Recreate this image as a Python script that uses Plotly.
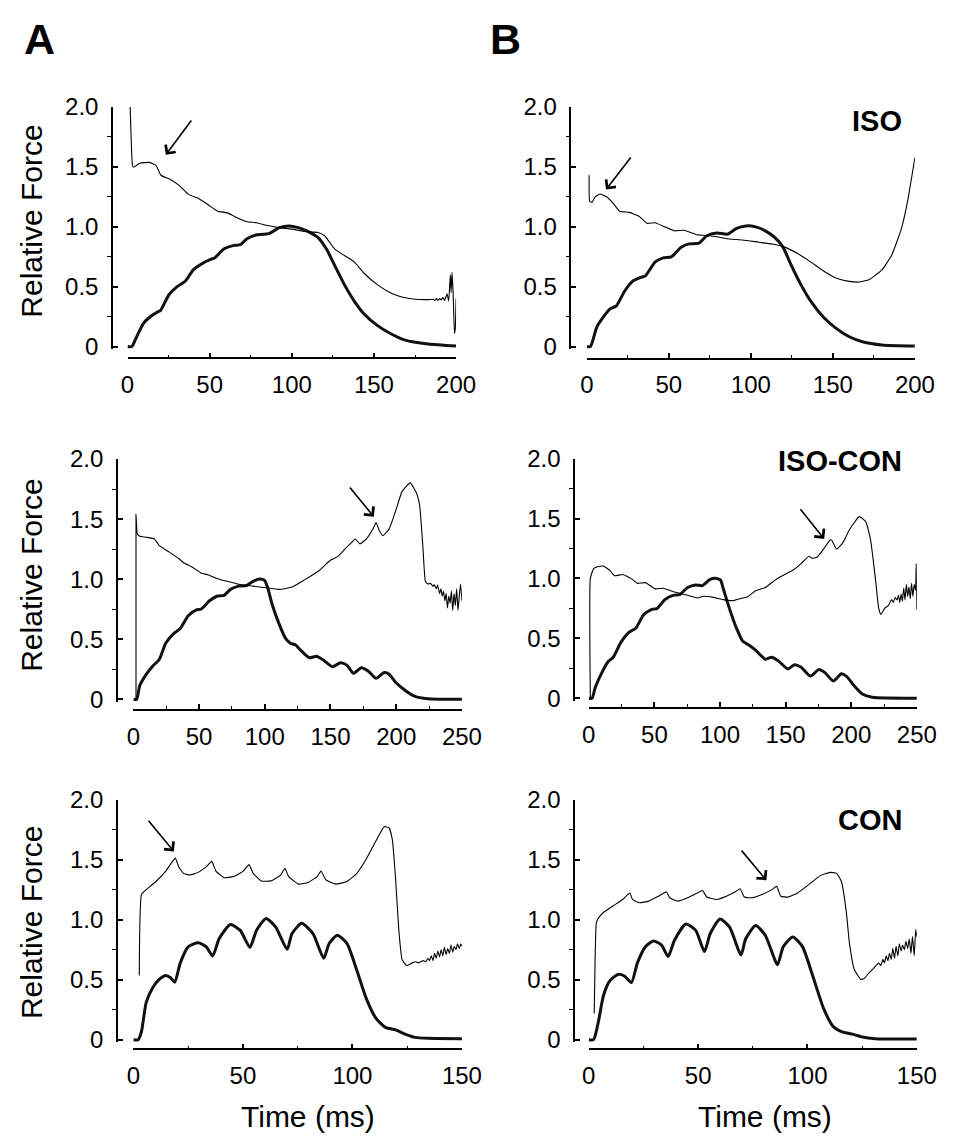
import plotly.graph_objects as go

W, H = 966, 1148

# ---------------- data ----------------
# Panel A, ISO
A1_thick_t = [0, 2.6, 5.5, 9.5, 13.4, 18.4, 20, 25.3, 30.2, 35.1, 40, 45, 50.9, 53, 58.8, 64.8, 68.7, 72.7, 78.6, 84.5, 86.5,
              92.4, 98.3, 104, 110, 116, 121, 126, 132, 138, 144, 152, 160, 169, 183, 200]
A1_thick_f = [0, 0, 0.08, 0.19, 0.245, 0.29, 0.30, 0.435, 0.50, 0.545, 0.64, 0.69, 0.73, 0.74, 0.816, 0.845, 0.85, 0.90, 0.933,
              0.94, 0.945, 0.993, 1.007, 0.993, 0.96, 0.91, 0.816, 0.68, 0.517, 0.38, 0.272, 0.177, 0.109, 0.054, 0.022, 0.005]
A1_thin_t = [1.6, 3.0, 3.6, 7.5, 13.4, 17.4, 20.3, 25.3, 31.2, 37.1, 43, 49, 54.9, 60.8, 66.7, 72.7, 78.6, 84.5, 92.4, 100,
             108, 116, 120, 126, 132, 138, 144, 152, 160, 167, 175, 183, 186, 187, 188, 189, 190, 191, 192, 193, 194.5,
             195.5, 196.5, 197, 197.5, 198.2, 199, 199.5, 200]
A1_thin_f = [2.0, 1.51, 1.497, 1.53, 1.537, 1.51, 1.43, 1.40, 1.347, 1.27, 1.238, 1.184, 1.13, 1.116, 1.075, 1.042, 1.034,
             1.012, 0.993, 0.98, 0.96, 0.952, 0.925, 0.816, 0.76, 0.707, 0.612, 0.517, 0.449, 0.414, 0.395, 0.392, 0.395,
             0.385, 0.40, 0.385, 0.40, 0.39, 0.41, 0.385, 0.44, 0.38, 0.60, 0.45, 0.62, 0.45, 0.11, 0.15, 0.40]

# Panel B, ISO
B1_thick_t = [0, 2.2, 6.1, 10, 14, 18, 22.9, 27.8, 32.8, 35.7, 41.7, 46.6, 51.5, 57.5, 62.4, 68.3, 73.2, 79.2, 86, 91, 97,
              102.9, 108.8, 114.7, 119.6, 124.6, 130.5, 136.4, 144.3, 152.2, 160, 168, 179.9, 200]
B1_thick_f = [0, 0, 0.163, 0.245, 0.313, 0.34, 0.46, 0.544, 0.577, 0.59, 0.707, 0.74, 0.748, 0.83, 0.857, 0.863, 0.925,
              0.947, 0.939, 0.985, 1.007, 0.999, 0.966, 0.91, 0.83, 0.68, 0.517, 0.381, 0.245, 0.15, 0.082, 0.041, 0.014, 0.005]
B1_thin_t = [1.4, 1.8, 3.2, 5.1, 8.1, 12, 16, 20, 25.9, 31.8, 36.7, 41.7, 47.6, 53.5, 59.4, 67.3, 75.2, 81.1, 87.1, 95,
             104.8, 114.7, 120.6, 128.5, 136.4, 144.3, 152.2, 160, 166, 172, 179.9, 185.8, 191.7, 195.7, 200]
B1_thin_f = [1.43, 1.21, 1.205, 1.25, 1.273, 1.25, 1.197, 1.129, 1.12, 1.088, 1.029, 1.034, 0.999, 0.966, 0.971, 0.933,
             0.925, 0.912, 0.898, 0.89, 0.871, 0.852, 0.83, 0.776, 0.707, 0.631, 0.571, 0.544, 0.539, 0.558, 0.64, 0.762,
             0.98, 1.224, 1.578]

# Panel A, ISO-CON
A2_thick_t = [0, 2.5, 4.9, 9.9, 14.8, 19.7, 24.6, 30.8, 35.7, 41.9, 48, 51.7, 57.9, 64, 69, 73.9, 80, 86.2, 91.1, 96,
              99.8, 102.2, 105.9, 110.8, 115.8, 119.5, 123.2, 128, 134.2, 139.2, 144, 151.5, 157.6, 162.6, 167.5, 173.6,
              178.6, 184.7, 190.9, 194.6, 199.5, 206.9, 214.3, 224, 250]
A2_thick_f = [0, 0, 0.114, 0.209, 0.277, 0.331, 0.467, 0.548, 0.589, 0.697, 0.744, 0.752, 0.82, 0.86, 0.866, 0.915, 0.942,
              0.947, 0.982, 1.001, 0.99, 0.928, 0.779, 0.63, 0.507, 0.467, 0.453, 0.4, 0.345, 0.358, 0.331, 0.271, 0.304,
              0.282, 0.217, 0.263, 0.236, 0.174, 0.223, 0.209, 0.141, 0.073, 0.024, 0.005, 0]
A2_thin_t = [2, 2, 3, 4.9, 9.9, 16, 19.7, 27.1, 34.5, 38.2, 44.3, 51.7, 56.7, 64, 71.4, 81.3, 91.1, 101, 110.8, 120.7,
             130.5, 140.4, 150.2, 155.2, 161.3, 166.3, 168.7, 172.4, 177.3, 182.3, 184.7, 187.2, 189.7, 194.6, 199.5,
             204.4, 210.6, 215.5, 217.9, 220.4, 222.2, 224.1, 226, 228, 229, 230.5, 231.5, 233, 234, 235, 236, 237, 238,
             239, 240, 241, 242, 243, 244, 245, 246, 247, 248, 249, 250]
A2_thin_f = [0, 1.54, 1.376, 1.357, 1.349, 1.335, 1.28, 1.227, 1.172, 1.137, 1.104, 1.05, 1.037, 1.004, 0.982, 0.955, 0.942,
             0.928, 0.915, 0.934, 0.996, 1.064, 1.159, 1.186, 1.254, 1.308, 1.335, 1.294, 1.335, 1.417, 1.471, 1.403,
             1.362, 1.417, 1.566, 1.729, 1.802, 1.715, 1.607, 1.254, 0.982, 0.96, 0.965, 0.94, 0.955, 0.92, 0.95, 0.88,
             0.92, 0.86, 0.9, 0.82, 0.88, 0.76, 0.86, 0.8, 0.9, 0.74, 0.88, 0.78, 0.92, 0.74, 0.86, 0.96, 0.82]

# Panel B, ISO-CON
B2_thick_t = [0, 2.5, 4.9, 9.9, 14.8, 18.5, 24.7, 30.8, 35.8, 42, 48.1, 51.8, 58, 64.2, 69.1, 75.3, 81.4, 86.4, 92.5, 97.5,
              100.4, 102.4, 107.4, 112.3, 117.2, 122.2, 127.1, 134.5, 139.4, 144.4, 151.8, 156.7, 161.6, 169, 175.2,
              180.2, 186.3, 192.5, 196.2, 202.4, 208.5, 216, 250]
B2_thick_f = [0, 0, 0.09, 0.212, 0.307, 0.34, 0.47, 0.552, 0.584, 0.70, 0.742, 0.747, 0.823, 0.859, 0.864, 0.924, 0.946,
              0.94, 0.992, 1.0, 0.986, 0.918, 0.742, 0.592, 0.478, 0.443, 0.402, 0.326, 0.342, 0.312, 0.245, 0.28, 0.261,
              0.185, 0.239, 0.212, 0.144, 0.204, 0.185, 0.103, 0.035, 0.008, 0]
B2_thin_t = [1.2, 1.2, 3.7, 7.4, 11.1, 16, 19.7, 25.9, 33.3, 37, 43.2, 50.6, 56.8, 65.4, 75.3, 82.7, 87.6, 95, 102.4, 109.8,
             117.2, 120.9, 127.1, 134.5, 141.9, 149.3, 155.5, 161.6, 167.8, 170.3, 174, 178.9, 183.9, 185.1, 188.8, 193.7,
             198.7, 206.1, 211, 214.7, 218.4, 220.9, 222.6, 225.8, 228, 230.8, 232, 233.5, 235, 236, 237, 238, 239, 240,
             241, 242, 243, 244, 245, 246, 247, 248, 249, 249.5, 250]
B2_thin_f = [0, 1.0, 1.082, 1.10, 1.103, 1.068, 1.022, 1.033, 0.992, 0.959, 0.965, 0.913, 0.918, 0.886, 0.859, 0.837, 0.851,
             0.842, 0.823, 0.815, 0.837, 0.845, 0.897, 0.924, 0.986, 1.033, 1.068, 1.122, 1.185, 1.168, 1.177, 1.245,
             1.321, 1.32, 1.245, 1.299, 1.408, 1.516, 1.476, 1.326, 1.0, 0.755, 0.70, 0.755, 0.77, 0.823, 0.80, 0.84,
             0.82, 0.86, 0.80, 0.87, 0.81, 0.92, 0.82, 0.95, 0.85, 0.93, 0.83, 0.96, 0.85, 0.95, 0.90, 1.12, 0.74]

# Panel A, CON
A3_thick_t = [0, 2.2, 3.7, 5.9, 8.9, 11.8, 14.8, 17, 18.9, 21.4, 25.1, 29.6, 33.2, 36.2, 39.2, 44.3, 48.8, 53.2, 56.2, 60.6,
              65, 70.2, 72.4, 76.8, 82, 86.9, 89.4, 93.1, 97.5, 101.9, 106.4, 110.8, 115.3, 119.7, 124.1, 128.6, 134.5, 150]
A3_thick_f = [0, 0, 0.068, 0.313, 0.435, 0.503, 0.536, 0.517, 0.48, 0.639, 0.776, 0.808, 0.776, 0.699, 0.844, 0.961, 0.912,
              0.77, 0.912, 1.012, 0.939, 0.754, 0.884, 0.971, 0.884, 0.68, 0.803, 0.871, 0.803, 0.585, 0.34, 0.177, 0.10,
              0.082, 0.046, 0.019, 0.011, 0.008]
A3_thin_t = [2.7, 3.7, 5.9, 10.3, 14.8, 17.7, 19.2, 20.7, 22.9, 25.9, 29.6, 33.2, 35.8, 37.7, 41.4, 45.8, 50.2, 52.8, 54.7,
             58.4, 62.8, 67.2, 69.2, 70.9, 75.4, 79.8, 83.9, 85.7, 87.9, 92.4, 97.5, 102, 106.4, 110.8, 114.5, 116.7,
             118.2, 119.7, 121.2, 122.7, 124.9, 127.8, 129, 130, 131.5, 132.5, 133.5, 134.5, 135.2, 136, 136.8, 137.5,
             138.3, 139, 139.8, 140.5, 141.3, 142, 142.8, 143.5, 144.3, 145, 145.8, 146.5, 147.3, 148, 148.8, 149.5, 150]
A3_thin_f = [0.536, 1.211, 1.252, 1.32, 1.407, 1.483, 1.516, 1.442, 1.388, 1.374, 1.396, 1.442, 1.488, 1.407, 1.352, 1.361,
             1.407, 1.461, 1.388, 1.325, 1.325, 1.374, 1.429, 1.361, 1.298, 1.312, 1.361, 1.407, 1.333, 1.298, 1.32,
             1.388, 1.51, 1.66, 1.777, 1.769, 1.673, 1.347, 0.912, 0.667, 0.618, 0.645, 0.65, 0.64, 0.653, 0.66, 0.65,
             0.68, 0.66, 0.70, 0.66, 0.72, 0.68, 0.74, 0.69, 0.75, 0.70, 0.77, 0.71, 0.76, 0.72, 0.79, 0.73, 0.78, 0.75,
             0.80, 0.76, 0.80, 0.78]

# Panel B, CON
B3_thick_t = [0, 2.2, 4.4, 6.7, 9.6, 13.3, 16.3, 19.5, 22.2, 25.9, 29.6, 33.3, 36.3, 39.2, 44.4, 48.9, 52.9, 55.5, 60, 64.4,
              69.6, 71.8, 76.3, 80.7, 86.3, 88.9, 93.3, 97.7, 102.2, 107.4, 111.8, 116.2, 120.7, 125.1, 131, 150]
B3_thick_f = [0, 0, 0.15, 0.367, 0.49, 0.544, 0.531, 0.476, 0.639, 0.776, 0.824, 0.789, 0.694, 0.83, 0.966, 0.912, 0.735,
              0.884, 1.007, 0.939, 0.707, 0.844, 0.952, 0.871, 0.626, 0.776, 0.857, 0.776, 0.544, 0.259, 0.109, 0.063,
              0.046, 0.022, 0.008, 0.005]
B3_thin_t = [2.5, 3.4, 4.1, 6.7, 11.1, 15.5, 18.8, 20, 23, 27.4, 31.8, 35.5, 37, 40.7, 45.2, 49.6, 52, 54, 58.5, 62.9, 67.4,
             69.2, 71.1, 74.8, 79.2, 83.7, 85.9, 87.8, 91.1, 95.5, 101.4, 105.9, 110.3, 113.3, 115.5, 117.7, 119.2, 121.4,
             124.4, 126, 128.1, 130, 132.5, 133.5, 134.5, 135.2, 136, 136.8, 137.5, 138.3, 139, 139.8, 140.5, 141.3, 142,
             142.8, 143.5, 144.3, 145, 145.8, 146.5, 147.3, 148, 148.8, 149.5, 150]
B3_thin_f = [0.218, 0.966, 1.007, 1.061, 1.116, 1.17, 1.224, 1.17, 1.143, 1.156, 1.197, 1.233, 1.184, 1.156, 1.184, 1.224,
             1.244, 1.19, 1.17, 1.197, 1.238, 1.26, 1.19, 1.184, 1.211, 1.252, 1.279, 1.197, 1.19, 1.224, 1.306, 1.369,
             1.396, 1.388, 1.32, 1.075, 0.803, 0.585, 0.503, 0.51, 0.558, 0.59, 0.639, 0.62, 0.67, 0.64, 0.70, 0.66,
             0.72, 0.67, 0.76, 0.68, 0.78, 0.70, 0.80, 0.74, 0.79, 0.75, 0.82, 0.76, 0.84, 0.72, 0.86, 0.70, 0.92, 0.86]

y_tickvals = [0, 0.5, 1.0, 1.5, 2.0]
y_ticktext = ["0", "0.5", "1.0", "1.5", "2.0"]
y_minor = [0.25, 0.75, 1.25, 1.75]
condition_labels = ["ISO", "ISO-CON", "CON"]
panel_letters = ["A", "B"]

# arrows: (head t, head f, tail t, tail f)
arrows = {
    "A1": (23.3, 1.60, 39.5, 1.90),
    "B1": (11.7, 1.31, 27.5, 1.59),
    "A2": (183.0, 1.52, 163.8, 1.775),
    "B2": (179.4, 1.33, 160.4, 1.59),
    "A3": (18.5, 1.57, 6.35, 1.84),
    "B3": (81.2, 1.33, 69.3, 1.59),
}

# ---------------- layout geometry (pixels) ----------------
panels = [
    dict(key="A1", thick=(A1_thick_t, A1_thick_f), thin=(A1_thin_t, A1_thin_f), xmax=200,
         x0=124, x1=462, yline=108, ytop=95, ybot=340, xline=352),
    dict(key="B1", thick=(B1_thick_t, B1_thick_f), thin=(B1_thin_t, B1_thin_f), xmax=200,
         x0=596.5, x1=934, yline=579.5, ytop=95, ybot=340, xline=352.5),
    dict(key="A2", thick=(A2_thick_t, A2_thick_f), thin=(A2_thin_t, A2_thin_f), xmax=250,
         x0=130, x1=468, yline=113, ytop=455, ybot=700.5, xline=711.5),
    dict(key="B2", thick=(B2_thick_t, B2_thick_f), thin=(B2_thin_t, B2_thin_f), xmax=250,
         x0=598.5, x1=936, yline=583.5, ytop=454.5, ybot=699.5, xline=709.5),
    dict(key="A3", thick=(A3_thick_t, A3_thick_f), thin=(A3_thin_t, A3_thin_f), xmax=150,
         x0=130, x1=468, yline=113, ytop=803.5, ybot=1048.5, xline=1058.5),
    dict(key="B3", thick=(B3_thick_t, B3_thick_f), thin=(B3_thin_t, B3_thin_f), xmax=150,
         x0=598.5, x1=936, yline=583.5, ytop=803.5, ybot=1048.5, xline=1058.5),
]

FONT = "Liberation Sans, Arial, Helvetica, sans-serif"
YMIN = -0.02


def fx(px):
    return px / W


def fy(py):
    return 1 - py / H


fig = go.Figure()
annotations = []
layout = {}

for i, p in enumerate(panels, start=1):
    xa = "x" if i == 1 else f"x{i}"
    ya = "y" if i == 1 else f"y{i}"
    xname = "xaxis" if i == 1 else f"xaxis{i}"
    yname = "yaxis" if i == 1 else f"yaxis{i}"

    fig.add_trace(go.Scatter(x=p["thick"][0], y=p["thick"][1], mode="lines", xaxis=xa, yaxis=ya,
                             line=dict(color="#111111", width=3, shape="spline", smoothing=0.6),
                             showlegend=False, hoverinfo="skip"))
    fig.add_trace(go.Scatter(x=p["thin"][0], y=p["thin"][1], mode="lines", xaxis=xa, yaxis=ya,
                             line=dict(color="#000000", width=1.1, shape="spline", smoothing=0.4),
                             showlegend=False, hoverinfo="skip"))

    ppu = (p["ybot"] - p["ytop"]) / 2.0
    ybot_ext = p["ybot"] + (-YMIN) * ppu

    layout[xname] = dict(
        domain=[fx(p["x0"]), fx(p["x1"])], range=[0, p["xmax"]], anchor="free", position=fy(p["xline"]),
        showline=True, linecolor="black", linewidth=1.5, showgrid=False, zeroline=False,
        ticks="inside", ticklen=5, tickwidth=1.5, tickcolor="black", dtick=50, tick0=0,
        tickfont=dict(family=FONT, size=24, color="black"), ticklabelstandoff=5,
        minor=dict(ticks="inside", ticklen=3, tickwidth=1.2, tickcolor="black", dtick=25, tick0=0),
        fixedrange=True,
    )
    layout[yname] = dict(
        domain=[fy(ybot_ext), fy(p["ytop"])], range=[YMIN, 2.0], anchor="free", position=fx(p["yline"]),
        showline=True, linecolor="black", linewidth=1.5, showgrid=False, zeroline=False,
        tickmode="array", tickvals=y_tickvals, ticktext=y_ticktext,
        ticks="inside", ticklen=5, tickwidth=1.5, tickcolor="black",
        tickfont=dict(family=FONT, size=24, color="black"), ticklabelstandoff=8,
        minor=dict(ticks="outside", ticklen=4, tickwidth=1.2, tickcolor="black", tickmode="array", tickvals=y_minor),
        fixedrange=True,
    )

    hx, hy, tx, ty = arrows[p["key"]]
    annotations.append(dict(x=hx, y=hy, ax=tx, ay=ty, xref=xa, yref=ya, axref=xa, ayref=ya,
                            showarrow=True, arrowhead=4, arrowsize=1.5, arrowwidth=1.6, arrowcolor="black",
                            standoff=0, startstandoff=0, text=""))

# condition labels
for lab, ycen in zip(condition_labels, [109, 457, 824]):
    annotations.append(dict(x=fx(923), y=fy(ycen), xref="paper", yref="paper", xanchor="right", yanchor="middle",
                            text=f"<b>{lab}</b>", showarrow=False, font=dict(family=FONT, size=29, color="black")))

# panel letters
for lab, xc in zip(panel_letters, [33, 513]):
    annotations.append(dict(x=fx(xc), y=fy(26), xref="paper", yref="paper", xanchor="center", yanchor="middle",
                            text=f"<b>{lab}</b>", showarrow=False, font=dict(family=FONT, size=43, color="black")))

# y-axis titles
for ycen in [212, 574, 929]:
    annotations.append(dict(x=fx(25), y=fy(ycen), xref="paper", yref="paper", xanchor="center", yanchor="middle",
                            text="Relative Force", textangle=-90, showarrow=False,
                            font=dict(family=FONT, size=30, color="black")))

# x-axis titles
for xc in [310, 780]:
    annotations.append(dict(x=fx(xc), y=fy(1127), xref="paper", yref="paper", xanchor="center", yanchor="middle",
                            text="Time (ms)", showarrow=False, font=dict(family=FONT, size=30, color="black")))

fig.update_layout(
    width=W, height=H, margin=dict(l=0, r=0, t=0, b=0),
    paper_bgcolor="white", plot_bgcolor="white",
    annotations=annotations, **layout,
)

fig.write_html(
    "out.html",
    config={"displayModeBar": False},
    post_script="document.documentElement.style.margin='0';document.body.style.margin='0';"
                "document.documentElement.style.overflow='hidden';document.body.style.overflow='hidden';",
)
